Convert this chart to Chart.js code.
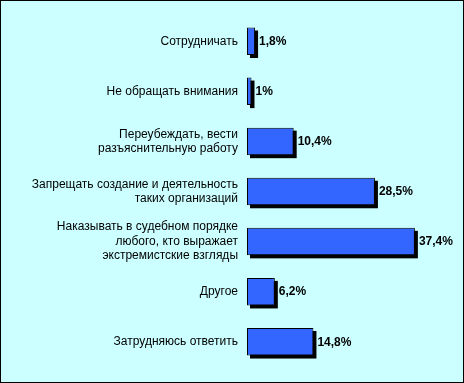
<!DOCTYPE html>
<html>
<head>
<meta charset="utf-8">
<script src="https://cdn.jsdelivr.net/npm/chart.js@4.4.1/dist/chart.umd.min.js"></script>
<style>
html,body{margin:0;padding:0;background:#CCFFFF;}
#wrap{width:464px;height:383px;position:relative;}
</style>
</head>
<body>
<div id="wrap"><canvas id="c" width="464" height="383"></canvas></div>
<script>
const categories = [
  "Сотрудничать",
  "Не обращать внимания",
  ["Переубеждать, вести", "разъяснительную работу"],
  ["Запрещать создание и деятельность", "таких организаций"],
  ["Наказывать в судебном порядке", "любого, кто выражает", "экстремистские взгляды"],
  "Другое",
  "Затрудняюсь ответить"
];
const values = [1.8, 1, 10.4, 28.5, 37.4, 6.2, 14.8];

const bgPlugin = {
  id: 'bg',
  beforeDraw(chart) {
    const ctx = chart.ctx;
    ctx.save();
    ctx.fillStyle = '#CCFFFF';
    ctx.fillRect(0, 0, chart.width, chart.height);
    ctx.restore();
  },
  afterDraw(chart) {
    const ctx = chart.ctx;
    ctx.save();
    ctx.strokeStyle = '#000';
    ctx.lineWidth = 1;
    ctx.strokeRect(0.5, 0.5, chart.width - 1, chart.height - 1);
    ctx.restore();
  }
};

const shadowPlugin = {
  id: 'shadow',
  beforeDatasetsDraw(chart) {
    const ctx = chart.ctx;
    const meta = chart.getDatasetMeta(0);
    ctx.save();
    ctx.fillStyle = '#000';
    meta.data.forEach(bar => {
      const p = bar.getProps(['x', 'y', 'base', 'height'], true);
      const left = Math.min(p.base, p.x), right = Math.max(p.base, p.x);
      ctx.fillRect(left + 3, p.y - p.height / 2 + 3, right - left, p.height);
    });
    ctx.restore();
  }
};

const labelPlugin = {
  id: 'vlabels',
  afterDatasetsDraw(chart) {
    const ctx = chart.ctx;
    const meta = chart.getDatasetMeta(0);
    ctx.save();
    ctx.fillStyle = '#000';
    ctx.font = 'bold 12px "Liberation Sans", Arial, sans-serif';
    ctx.textAlign = 'left';
    ctx.textBaseline = 'middle';
    meta.data.forEach((bar, i) => {
      const p = bar.getProps(['x', 'y'], true);
      const txt = String(values[i]).replace('.', ',') + '%';
      ctx.fillText(txt, p.x + 4, p.y + 0.5);
    });
    ctx.restore();
  }
};

new Chart(document.getElementById('c'), {
  type: 'bar',
  data: {
    labels: categories,
    datasets: [{
      data: values,
      backgroundColor: '#3366FF',
      borderColor: '#000',
      borderWidth: 1,
      borderSkipped: false,
      categoryPercentage: 1,
      barPercentage: 0.55
    }]
  },
  options: {
    indexAxis: 'y',
    responsive: false,
    animation: false,
    events: [],
    layout: { padding: { left: 0, right: 15, top: 14, bottom: 16 } },
    plugins: { legend: { display: false }, tooltip: { enabled: false } },
    scales: {
      x: { display: false, min: 0, max: 45 },
      y: {
        grid: { display: false, drawTicks: false },
        border: { display: false },
        afterFit(scale) { scale.width = 247; },
        ticks: {
          padding: 9,
          color: '#000',
          font: { family: '"Liberation Sans", Arial, sans-serif', size: 12, lineHeight: 1.2 }
        }
      }
    }
  },
  plugins: [bgPlugin, shadowPlugin, labelPlugin]
});
</script>
</body>
</html>
